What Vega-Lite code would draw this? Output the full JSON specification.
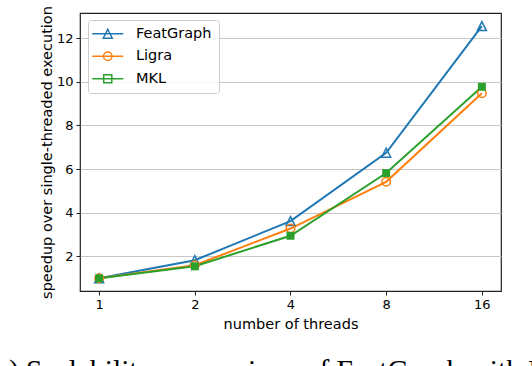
{
  "$schema": "https://vega.github.io/schema/vega-lite/v6.json",
  "autosize": {"type": "none"},
  "padding": {"left": 80, "top": 13, "right": 31, "bottom": 75},
  "width": 421,
  "height": 278,
  "background": "white",
  "title": {
    "text": "(a) Scalability comparison of FeatGraph with Ligra and MKL.",
    "orient": "bottom",
    "anchor": "start",
    "frame": "group",
    "dx": -94,
    "offset": 26,
    "font": "Liberation Serif",
    "fontSize": 29.5,
    "fontWeight": "normal",
    "color": "black"
  },
  "data": {
    "values": [
      {"threads": 1, "series": "FeatGraph", "speedup": 1.0},
      {"threads": 2, "series": "FeatGraph", "speedup": 1.83},
      {"threads": 4, "series": "FeatGraph", "speedup": 3.62},
      {"threads": 8, "series": "FeatGraph", "speedup": 6.75},
      {"threads": 16, "series": "FeatGraph", "speedup": 12.55},
      {"threads": 1, "series": "Ligra", "speedup": 1.0},
      {"threads": 2, "series": "Ligra", "speedup": 1.6},
      {"threads": 4, "series": "Ligra", "speedup": 3.28},
      {"threads": 8, "series": "Ligra", "speedup": 5.42},
      {"threads": 16, "series": "Ligra", "speedup": 9.48},
      {"threads": 1, "series": "MKL", "speedup": 1.0},
      {"threads": 2, "series": "MKL", "speedup": 1.55},
      {"threads": 4, "series": "MKL", "speedup": 2.95},
      {"threads": 8, "series": "MKL", "speedup": 5.82},
      {"threads": 16, "series": "MKL", "speedup": 9.77}
    ]
  },
  "encoding": {
    "x": {
      "field": "threads",
      "type": "quantitative",
      "scale": {"type": "log", "base": 2, "domain": [0.8706, 18.379], "nice": false},
      "axis": {"values": [1, 2, 4, 8, 16], "format": "d", "grid": false, "title": "number of threads"}
    },
    "y": {
      "field": "speedup",
      "type": "quantitative",
      "scale": {"domain": [0.42, 13.15], "nice": false, "zero": false},
      "axis": {"values": [2, 4, 6, 8, 10, 12], "grid": true, "title": "speedup over single-threaded execution"}
    }
  },
  "layer": [
    {
      "mark": {"type": "line", "strokeWidth": 2},
      "encoding": {
        "color": {
          "field": "series",
          "type": "nominal",
          "scale": {"domain": ["FeatGraph", "Ligra", "MKL"], "range": ["#1f77b4", "#ff7f0e", "#2ca02c"]}
        }
      }
    },
    {
      "transform": [{"filter": "datum.series === 'FeatGraph'"}],
      "mark": {"type": "point", "shape": "M0,-1L1,1L-1,1Z", "filled": false, "size": 81, "strokeWidth": 1.5, "color": "#1f77b4", "opacity": 1}
    },
    {
      "transform": [{"filter": "datum.series === 'Ligra'"}],
      "mark": {"type": "point", "shape": "circle", "filled": false, "size": 72, "strokeWidth": 1.5, "color": "#ff7f0e", "opacity": 1}
    },
    {
      "transform": [{"filter": "datum.series === 'MKL'"}],
      "mark": {"type": "point", "shape": "square", "filled": true, "size": 64, "strokeWidth": 1.5, "color": "#2ca02c", "opacity": 1}
    },
    {
      "mark": {"type": "point", "opacity": 0, "filled": false, "size": 81, "strokeWidth": 1.5},
      "encoding": {
        "color": {
          "field": "series",
          "type": "nominal",
          "scale": {"domain": ["FeatGraph", "Ligra", "MKL"], "range": ["#1f77b4", "#ff7f0e", "#2ca02c"]},
          "legend": {
            "orient": "none", "legendX": 8, "legendY": 7, "title": null,
            "padding": 6.5, "fillColor": "rgba(255,255,255,0.85)", "strokeColor": "#cccccc", "cornerRadius": 3,
            "symbolSize": 81, "symbolStrokeWidth": 1.5, "symbolOffset": 6, "labelOffset": 21,
            "labelFont": "DejaVu Sans", "labelFontSize": 14.5, "labelColor": "black", "rowPadding": 6.5,
            "symbolOpacity": 1,
            "encode": {"symbols": {"update": {"fill": {"signal": "datum.value === 'MKL' ? '#2ca02c' : 'transparent'"}}}}
          }
        },
        "shape": {
          "field": "series",
          "type": "nominal",
          "scale": {
            "domain": ["FeatGraph", "Ligra", "MKL"],
            "range": [
              "M-3.45,0H3.45M0,-1L1,1L-1,1Z",
              "M-3.45,0H3.45M0.95,0A0.95,0.95,0,1,1,-0.95,0A0.95,0.95,0,1,1,0.95,0Z",
              "M-3.45,0H3.45M-0.9,-0.9H0.9V0.9H-0.9Z"
            ]
          },
          "legend": {
            "orient": "none", "legendX": 8, "legendY": 7, "title": null,
            "padding": 6.5, "fillColor": "rgba(255,255,255,0.85)", "strokeColor": "#cccccc", "cornerRadius": 3,
            "symbolSize": 81, "symbolStrokeWidth": 1.5, "symbolOffset": 6, "labelOffset": 21,
            "labelFont": "DejaVu Sans", "labelFontSize": 14.5, "labelColor": "black", "rowPadding": 6.5,
            "symbolOpacity": 1,
            "encode": {"symbols": {"update": {"fill": {"signal": "datum.value === 'MKL' ? '#2ca02c' : 'transparent'"}}}}
          }
        }
      }
    }
  ],
  "config": {
    "font": "DejaVu Sans",
    "view": {"stroke": "#222222", "strokeWidth": 1.2},
    "axis": {
      "domain": false,
      "tickColor": "#222222",
      "tickSize": 4,
      "tickWidth": 1,
      "labelFont": "DejaVu Sans",
      "labelFontSize": 13,
      "labelColor": "black",
      "labelPadding": 3,
      "titleFont": "DejaVu Sans",
      "titleFontSize": 14.5,
      "titleFontWeight": "normal",
      "titleColor": "black",
      "gridColor": "#c8c8c8",
      "gridWidth": 1
    },
    "axisY": {"titlePadding": 2},
    "axisX": {"titlePadding": 6}
  }
}
